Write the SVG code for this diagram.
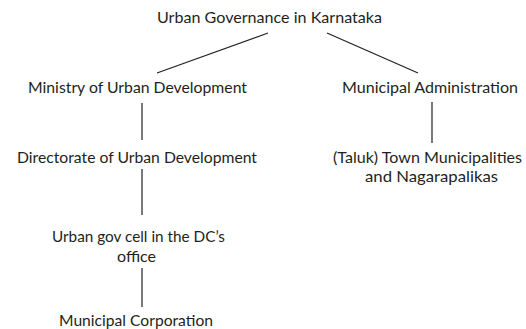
<svg xmlns="http://www.w3.org/2000/svg" width="526" height="329" viewBox="0 0 526 329">
<style>
text { font-family: Lato, "Open Sans", sans-serif; font-size: 15px; fill: #231f20; text-anchor: middle; }
.c line { stroke: #231f20; stroke-width: 1.2; }
</style>
<rect width="526" height="329" fill="#fff"/>
<g class="c" id="connectors">
<line x1="268" y1="33" x2="157" y2="73"/>
<line x1="327" y1="33" x2="418" y2="73"/>
<line x1="142" y1="103" x2="142" y2="140"/>
<line x1="432" y1="102" x2="432" y2="143"/>
<line x1="142" y1="169" x2="142" y2="215"/>
<line x1="142" y1="268" x2="142" y2="307"/>
</g>
<g id="n-root"><text x="269.5" y="23" textLength="225" lengthAdjust="spacingAndGlyphs">Urban Governance in Karnataka</text></g>
<g id="n-ministry"><text x="137.5" y="93" textLength="219" lengthAdjust="spacingAndGlyphs">Ministry of Urban Development</text></g>
<g id="n-municipal-admin"><text x="430" y="93" textLength="176" lengthAdjust="spacingAndGlyphs">Municipal Administration</text></g>
<g id="n-directorate"><text x="137" y="163" textLength="240" lengthAdjust="spacingAndGlyphs">Directorate of Urban Development</text></g>
<g id="n-taluk"><text x="427.5" y="163" textLength="189" lengthAdjust="spacingAndGlyphs">(Taluk) Town Municipalities</text><text x="431.5" y="182" textLength="133" lengthAdjust="spacingAndGlyphs">and Nagarapalikas</text></g>
<g id="n-dc-cell"><text x="138.5" y="242" textLength="173" lengthAdjust="spacingAndGlyphs">Urban gov cell in the DC’s</text><text x="136.5" y="262" textLength="39" lengthAdjust="spacingAndGlyphs">office</text></g>
<g id="n-corporation"><text x="136" y="326" textLength="154" lengthAdjust="spacingAndGlyphs">Municipal Corporation</text></g>
</svg>
